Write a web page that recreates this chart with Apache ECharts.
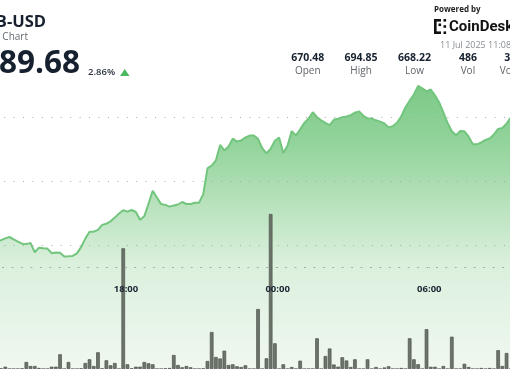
<!DOCTYPE html>
<html><head><meta charset="utf-8">
<script src="https://cdn.jsdelivr.net/npm/echarts@6/dist/echarts.min.js"></script>
<style>html,body{margin:0;padding:0;background:#fff;overflow:hidden}#c{width:510px;height:369px}</style>
</head><body><div id="c"></div>
<script>
// ---- data ----
const startTime = '13:00';
const stepMinutes = 10;
const prices = [
 670.47, 670.75, 671.04, 671.25, 670.89, 670.54, 670.21, 670.14, 670.30, 668.87,
 669.58, 669.48, 669.44, 668.72, 668.83, 668.79, 668.22, 668.25, 668.29, 668.69,
 669.67, 671.00, 672.08, 672.08, 672.37, 673.14, 673.33, 673.70, 674.28, 674.91,
 675.42, 675.22, 675.47, 675.16, 673.95, 674.48, 676.45, 678.48, 677.41, 676.39,
 676.27, 676.00, 676.16, 676.33, 676.72, 676.41, 676.41, 676.60, 676.62, 677.95,
 681.98, 682.42, 683.22, 685.64, 684.78, 685.39, 686.61, 686.16, 686.34, 686.80,
 687.09, 687.11, 686.59, 685.12, 684.33, 685.03, 686.29, 686.81, 684.36, 685.50,
 687.80, 687.11, 688.06, 689.08, 689.77, 690.75, 689.97, 689.48, 689.08, 688.73,
 689.57, 689.73, 689.98, 690.09, 690.28, 690.67, 690.88, 690.19, 689.80, 689.75,
 689.48, 689.28, 688.98, 688.38, 688.58, 689.11, 690.09, 691.53, 692.55, 693.52,
 694.85, 694.47, 694.00, 694.30, 693.38, 692.28, 690.73, 689.06, 687.78, 687.14,
 687.80, 687.77, 686.92, 685.73, 685.73, 686.02, 686.41, 686.64, 687.28, 688.13,
 688.28, 688.97, 689.92
];
const volumes = [
 0, 0.5, 2.3, 0, 0, 0, 0.5, 7, 3, 3,
 1, 0, 0, 2.3, 2.3, 14.7, 0, 7, 0, 0,
 0.5, 6, 9.7, 3, 16.7, 0.5, 8.7, 3.7, 6, 0,
 120.7, 4.7, 0.5, 2.3, 2.3, 7, 5.7, 4.7, 0, 0,
 0.5, 1, 14, 4, 1.7, 3, 1.7, 0, 0, 0.5,
 8, 37, 12, 10.5, 18.3, 4, 4.7, 2.7, 2, 3.7,
 0, 0, 60, 0, 10.7, 155, 25.7, 0, 4.7, 0,
 2, 0, 8.3, 0, 0, 0, 30.7, 0, 13, 20.5,
 4.5, 2.3, 11.7, 8.5, 2, 9.7, 0, 0, 9.7, 0,
 2, 0, 1.5, 2.7, 0, 0, 1, 0, 30.7, 9.7,
 4.8, 0, 39.8, 2.2, 2.2, 0, 3, 0, 32.3, 0,
 0, 5.2, 2, 0, 0, 1, 0, 1, 0, 18.8,
 3, 16, 0
];
const gridLevels = [670, 680, 690];
const timeLabels = ['12:00', '18:00', '00:00', '06:00'];
const statValues = ['670.48', '694.85', '668.22', '486', '331.1K'];
const statNames = ['Open', 'High', 'Low', 'Vol', 'Vol (USD)'];

// categories (10-minute buckets)
const [sh, sm] = startTime.split(':').map(Number);
const categories = prices.map((_, i) => {
  const m = (sh * 60 + sm + i * stepMinutes) % 1440;
  return String(Math.floor(m / 60)).padStart(2, '0') + ':' + String(m % 60).padStart(2, '0');
});

const chart = echarts.init(document.getElementById('c'), null, {renderer: 'canvas'});
const F = '"Open Sans", "Noto Sans", sans-serif';
const dotted = [1, 8.43];
const gridColor = '#a3a8ad';

const graphics = [
  {type: 'text', x: 46, y: 22, style: {text: 'BNB-USD', font: 'bold 16.5px ' + F, fill: '#16202e', textAlign: 'right', align: 'right', textVerticalAlign: 'middle', verticalAlign: 'middle'}},
  {type: 'text', x: 28, y: 37, style: {text: 'BNB to US Dollar Chart', font: '10px ' + F, fill: '#666b70', textAlign: 'right', align: 'right', textVerticalAlign: 'middle', verticalAlign: 'middle'}},
  {type: 'text', x: 80, y: 64.5, style: {text: '689.68', font: 'bold 31.5px ' + F, fill: '#16202e', textAlign: 'right', align: 'right', textVerticalAlign: 'middle', verticalAlign: 'middle'}},
  {type: 'text', x: 88, y: 72, style: {text: '2.86%', font: '600 9.5px ' + F, fill: '#2e3440', textAlign: 'left', align: 'left', textVerticalAlign: 'middle', verticalAlign: 'middle'}},
  {type: 'polygon', shape: {points: [[120, 76], [129.5, 76], [124.75, 69]]}, style: {fill: '#4cb860'}},
  {type: 'text', x: 434, y: 9.5, style: {text: 'Powered by', font: 'bold 8px ' + F, fill: '#1d1d1f', textAlign: 'left', align: 'left', textVerticalAlign: 'middle', verticalAlign: 'middle'}},
  {type: 'rect', shape: {x: 434, y: 19, width: 2.6, height: 15}, style: {fill: '#111'}},
  {type: 'rect', shape: {x: 434, y: 19, width: 7, height: 2.6}, style: {fill: '#111'}},
  {type: 'rect', shape: {x: 434, y: 31.4, width: 7, height: 2.6}, style: {fill: '#111'}},
  {type: 'rect', shape: {x: 438.5, y: 23.5, width: 2.6, height: 2.6}, style: {fill: '#111'}},
  {type: 'rect', shape: {x: 443.5, y: 19, width: 2.6, height: 2.6}, style: {fill: '#111'}},
  {type: 'rect', shape: {x: 443.5, y: 31.4, width: 2.6, height: 2.6}, style: {fill: '#111'}},
  {type: 'rect', shape: {x: 443.5, y: 25.2, width: 2.6, height: 2.6}, style: {fill: '#111'}},
  {type: 'text', x: 449, y: 27, style: {text: 'CoinDesk', font: 'bold 15px Roboto, ' + F, fill: '#111', textAlign: 'left', align: 'left', textVerticalAlign: 'middle', verticalAlign: 'middle'}},
  {type: 'text', x: 440, y: 45, style: {text: '11 Jul 2025 11:08 UTC', font: '9px ' + F, fill: '#8a8f94', textAlign: 'left', align: 'left', textVerticalAlign: 'middle', verticalAlign: 'middle'}}
];
const statX0 = 307.7, statDx = 53.4;
statValues.forEach((v, i) => {
  graphics.push({type: 'text', x: statX0 + i * statDx, y: 58, style: {text: v, font: 'bold 10.5px ' + F, fill: '#16202e', textAlign: 'center', align: 'center', textVerticalAlign: 'middle', verticalAlign: 'middle'}});
  graphics.push({type: 'text', x: statX0 + i * statDx, y: 71, style: {text: statNames[i], font: '10px ' + F, fill: '#5f6469', textAlign: 'center', align: 'center', textVerticalAlign: 'middle', verticalAlign: 'middle'}});
});

const option = {
  animation: false,
  backgroundColor: '#ffffff',
  grid: [
    {left: -5.25, right: -2.89, top: 53, bottom: -4, outerBoundsMode: 'none', containLabel: false},
    {left: -5.25, right: -2.89, top: 169, bottom: 0, outerBoundsMode: 'none', containLabel: false},
    {left: -25.65, right: -0.18, top: 200, bottom: 102, outerBoundsMode: 'none', containLabel: false}
  ],
  xAxis: [
    {type: 'category', gridIndex: 0, data: categories, boundaryGap: true, show: false},
    {type: 'category', gridIndex: 1, data: categories, boundaryGap: true, show: false},
    {type: 'value', gridIndex: 2, min: 0, max: 1272, interval: 360, z: 10,
     axisLine: {show: true, lineStyle: {color: gridColor, type: dotted, width: 1}},
     axisTick: {show: true, length: 7, lineStyle: {color: gridColor, type: [1, 6]}},
     splitLine: {show: false},
     axisLabel: {show: true, margin: 17, showMinLabel: false, showMaxLabel: false,
       color: '#1c2433', fontWeight: 'bold', fontSize: 9.5, fontFamily: F,
       formatter: v => timeLabels[Math.round(v / 360)] || ''}}
  ],
  yAxis: [
    {type: 'value', gridIndex: 0, min: 650, max: 700, show: false, splitLine: {show: false}},
    {type: 'value', gridIndex: 1, min: 0, max: 200, show: false, splitLine: {show: false}},
    {type: 'value', gridIndex: 2, min: 0, max: 1, show: false, splitLine: {show: false}}
  ],
  series: [
    {
      type: 'line', xAxisIndex: 0, yAxisIndex: 0, data: prices, symbol: 'none', z: 2,
      lineStyle: {color: '#72c57d', width: 2},
      areaStyle: {opacity: 1, color: new echarts.graphic.LinearGradient(0, 0, 0, 1, [
        {offset: 0, color: '#7cc987'},
        {offset: 0.2, color: '#93d49c'},
        {offset: 0.4, color: '#b6e1ba'},
        {offset: 0.62, color: '#dbf0dd'},
        {offset: 1, color: '#f1f8f1'}
      ])},
      markLine: {silent: true, symbol: ['none', 'none'], label: {show: false},
        lineStyle: {color: gridColor, type: dotted, width: 1},
        data: gridLevels.map(v => ({yAxis: v}))}
    },
    {
      type: 'bar', xAxisIndex: 1, yAxisIndex: 1, data: volumes, barWidth: 3.6, z: 3,
      itemStyle: {color: '#6d756b', borderColor: '#4b5249', borderWidth: 0.7}
    }
  ],
  graphic: graphics
};
chart.setOption(option);
</script></body></html>
